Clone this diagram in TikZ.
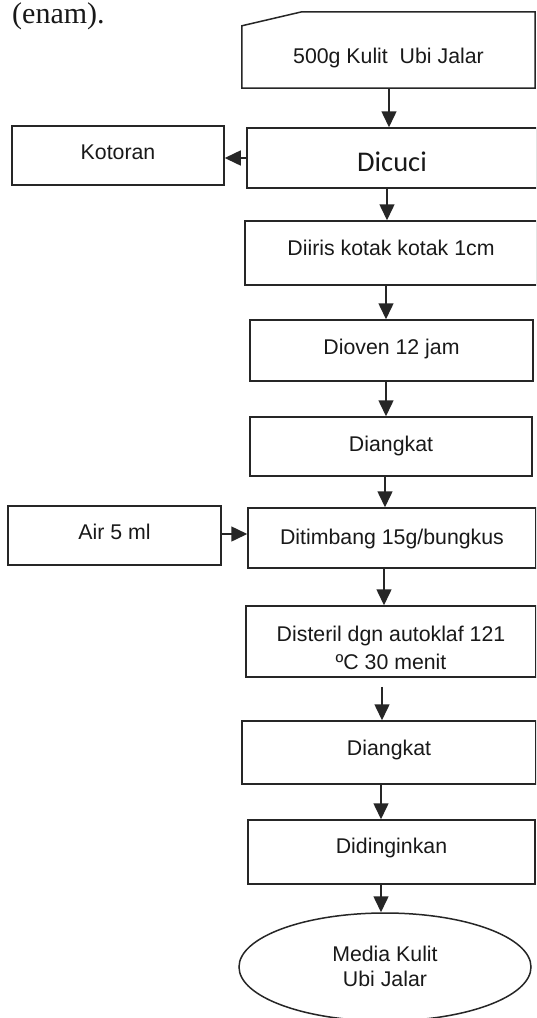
\documentclass[tikz,border=0pt]{standalone}
\usepackage{fontspec}
\setmainfont{Liberation Sans}
\newfontfamily\dicfont{Carlito}
\newfontfamily\pagefont{Liberation Serif}
\usetikzlibrary{arrows.meta,shapes.geometric,calc}

% text whose baseline sits #1 pt above the node centre
\newcommand{\bl}[2]{\raisebox{#1pt}[0pt][0pt]{#2}}
% two centred lines; the baseline of the second sits #1 pt above the node centre
\newcommand{\twol}[3]{\raisebox{#1pt}[0pt][0pt]{\begin{tabular}[b]{@{}c@{}}#2\\#3\end{tabular}}}

\begin{document}
\begin{tikzpicture}[x=1pt,y=-1pt,
  ink/.style={draw=black!85, line width=1.5pt},
  stepbox/.style={ink, rectangle, inner sep=0pt, text=black!90, font=\fontsize{21.3}{27.5}\selectfont},
  arr/.style={draw=black!85, line width=1.5pt, -{Triangle[length=16pt,width=15pt]}},
]
\useasboundingbox (0,0) rectangle (536,1018);
\fill[white] (0,0) rectangle (536,1018);
\clip (0,0) rectangle (536,1018);

% heading fragment of the page
\node[anchor=base west, inner sep=0pt, text=black!90, font=\pagefont\fontsize{30}{32}\selectfont] (enam) at (12,23) {(enam).};

% input: manual-input shape
\node[rectangle, inner sep=0pt, minimum width=293pt, minimum height=76pt, text=black!90,
      font=\fontsize{21.3}{27.5}\selectfont] (raw) at (388.5,50) {\bl{-13}{500g Kulit\ \ Ubi Jalar}};
\draw[ink, line join=miter] (raw.south west) -- ($(raw.north west)+(0,14)$) -- ($(raw.north west)+(60,0)$)
      -- (raw.north east) -- (raw.south east) -- cycle;

% process steps
\node[stepbox, minimum width=290pt, minimum height=60pt] (cuci) at (392,158)
  {\bl{-13}{\dicfont\fontsize{28.5}{30}\selectfont Dicuci}};
\node[stepbox, minimum width=212pt, minimum height=59pt] (kotoran) at (118,155.5) {\bl{-3.5}{Kotoran}};
\node[stepbox, minimum width=292pt, minimum height=64pt] (iris) at (391,253) {\bl{-2}{Diiris kotak kotak 1cm}};
\node[stepbox, minimum width=283pt, minimum height=61pt] (oven) at (391.5,350.5) {\bl{-4}{Dioven 12 jam}};
\node[stepbox, minimum width=282pt, minimum height=59pt] (angkat) at (391,446.5) {\bl{-4.5}{Diangkat}};
\node[stepbox, minimum width=213pt, minimum height=59pt] (air) at (114.5,535.5) {\bl{-4}{Air 5 ml}};
\node[stepbox, minimum width=288pt, minimum height=60pt] (timbang) at (392,538) {\bl{-6}{Ditimbang 15g/bungkus}};
\node[stepbox, minimum width=290pt, minimum height=71pt] (steril) at (391,641.5)
  {\twol{-27.5}{Disteril dgn autoklaf 121}{ºC 30 menit}};
\node[stepbox, minimum width=294pt, minimum height=63pt] (angkatb) at (389,752.5) {\bl{-2.5}{Diangkat}};
\node[stepbox, minimum width=287pt, minimum height=64pt] (dingin) at (391.5,852) {\bl{-1}{Didinginkan}};

% product
\node[ink, ellipse, inner sep=0pt, minimum width=292pt, minimum height=108pt, text=black!90,
      font=\fontsize{21.3}{24.5}\selectfont] (media) at (385,967)
  {\raisebox{-19pt}[0pt][0pt]{\begin{tabular}[b]{@{}c@{}}Media Kulit\\Ubi Jalar\end{tabular}}};

% flow column positions
\coordinate (c1) at (389,0);
\coordinate (c2) at (387,0);
\coordinate (c3) at (386,0);
\coordinate (c4) at (386,0);
\coordinate (c5) at (385,0);
\coordinate (c6) at (384,0);
\coordinate (c7) at (382,0);
\coordinate (c8) at (381,0);
\coordinate (c9) at (381,0);
\coordinate (side) at (0,534);

% main flow
\draw[arr] (raw.south -| c1) -- (cuci.north -| c1);
\draw[arr] (cuci.south -| c2) -- (iris.north -| c2);
\draw[arr] (iris.south -| c3) -- (oven.north -| c3);
\draw[arr] (oven.south -| c4) -- (angkat.north -| c4);
\draw[arr] (angkat.south -| c5) -- (timbang.north -| c5);
\draw[arr] (timbang.south -| c6) -- (steril.north -| c6);
\draw[arr, shorten <=9pt] (steril.south -| c7) -- (angkatb.north -| c7);
\draw[arr] (angkatb.south -| c8) -- (dingin.north -| c8);
\draw[arr] (dingin.south -| c9) -- (media.north -| c9);

% side streams
\draw[arr] (cuci.west) -- (cuci.west -| kotoran.east);
\draw[arr] (air.east |- side) -- (timbang.west |- side);
\end{tikzpicture}
\end{document}
